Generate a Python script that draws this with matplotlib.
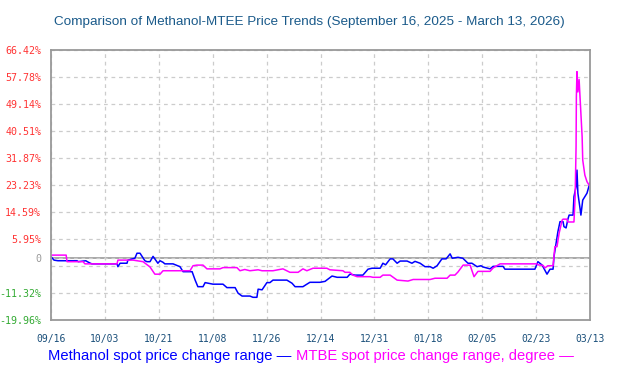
import matplotlib
matplotlib.use("Agg")
import matplotlib.pyplot as plt

# days since 2025-09-16 and change (%)
methanol_days = [0, 1, 2.3, 8.6, 9, 11.5, 12, 13, 13.5, 21.8, 22.1, 22.8, 25.1, 25.4, 27.7, 28.4,
                 29.4, 31.0, 31.7, 32.7, 33.7, 35.3, 36, 37.0, 37.6, 40.3, 42.6, 43.6, 46.6, 47.6,
                 48.5, 50.2, 50.9, 53.5, 56.8, 58.1, 60.8, 61.8, 63.1, 65.7, 66.7, 68.0, 68.4, 69.7,
                 71.3, 72.3, 73.3, 77.9, 79.6, 80.6, 83.2, 84.5, 85.5, 88.8, 90.5, 92.8, 94.5, 97.8,
                 98.7, 100.4, 103.0, 104.7, 106.0, 108.7, 109.6, 110.5, 112.0, 112.9, 114.3, 115.3,
                 117.6, 119.2, 120.2, 121.9, 123.5, 125.2, 126.2, 127.5, 129.1, 130.5, 131.8, 132.5,
                 134.4, 136, 137.7, 139.0, 140.7, 142, 142.7, 145.0, 146.0, 149.3, 149.9, 159.8,
                 160.8, 162.2, 163.8, 164.8, 165.8, 166.1, 166.8, 167.4, 168.1, 169.1, 169.4, 170.1,
                 170.7, 171.1, 172.4, 172.7, 173.4, 173.7, 174.0, 174.7, 175.0, 175.6, 177.0, 178.0]
methanol_vals = [0.3, -0.8, -1.0, -1.0, -1.3, -1.0, -1.3, -1.8, -2.0, -2.0, -2.9, -1.8, -1.8, -0.8,
                 -0.2, 1.4, 1.4, -1.0, -1.3, -1.3, 0.4, -1.8, -1.0, -1.5, -2.0, -2.0, -2.9, -4.5,
                 -4.5, -7.2, -9.3, -9.3, -8.0, -8.5, -8.5, -9.6, -9.6, -11.4, -12.3, -12.3, -12.7,
                 -12.7, -10.1, -10.3, -8.0, -8.0, -7.2, -7.2, -8.2, -9.3, -9.3, -8.5, -7.9, -7.9,
                 -7.6, -5.9, -6.3, -6.3, -5.3, -5.6, -5.6, -3.7, -3.4, -3.4, -1.8, -2.3, -0.4, -0.4,
                 -1.8, -1.1, -1.1, -1.8, -1.2, -1.8, -2.9, -2.9, -3.4, -2.6, -0.4, -0.4, 1.2, -0.2,
                 0.1, -0.2, -1.8, -1.8, -2.9, -2.6, -3.0, -3.6, -2.8, -2.8, -3.7, -3.7, -1.3, -2.4,
                 -5.3, -3.7, -3.7, 0.3, 4.6, 8.3, 11.5, 11.5, 9.9, 9.5, 12.3, 13.6, 13.6, 19.5, 22.7,
                 28.0, 20.6, 15.8, 13.6, 18.4, 20.6, 24.0]

mtbe_days = [0, 5, 5.3, 10.6, 11.2, 21.8, 22.1, 27.1, 28.4, 30.4, 32.7, 34.3, 36.0, 37.0, 43.6,
             45.9, 46.9, 48.2, 50.2, 51.5, 55.8, 56.8, 61.4, 62.4, 64, 65.7, 68.4, 69.7, 73.3,
             76.6, 78.9, 81.6, 83.2, 84.5, 86.5, 91.1, 92.1, 96.4, 97.1, 98.7, 99.7, 101.1, 105.4,
             106.3, 108.7, 109.6, 112.0, 114.3, 117.9, 119.6, 125.2, 126.8, 130.8, 131.8, 133.4,
             134.4, 136.1, 138.4, 139.7, 141.0, 145.0, 146.0, 148.3, 160.5, 160.8, 162.5, 163.1,
             164.1, 165.8, 166.4, 167.1, 167.8, 168.8, 169.1, 170.4, 170.7, 172.7, 173.1, 173.4,
             173.5, 173.7, 174.0, 174.4, 174.7, 175.4, 175.6, 176.3, 177.0, 178.0]
mtbe_vals = [0.8, 0.8, -1.3, -1.3, -2.0, -2.0, -0.8, -0.8, -1.0, -1.3, -3.0, -5.3, -5.3, -4.2,
             -4.2, -4.2, -2.6, -2.4, -2.4, -3.6, -3.6, -3.2, -3.2, -4.2, -3.8, -4.2, -3.9, -4.2,
             -4.2, -3.6, -4.7, -4.7, -3.6, -4.2, -3.4, -3.4, -3.9, -4.2, -4.7, -4.7, -5.6, -6.1,
             -6.1, -6.3, -6.3, -5.6, -5.6, -7.2, -7.5, -7.0, -7.0, -6.6, -6.6, -5.6, -5.6, -4.6,
             -2.4, -2.4, -6.1, -4.4, -4.4, -3.3, -2.0, -2.0, -2.3, -2.5, -3.3, -2.6, -2.6, 3.5,
             3.5, 7.8, 12.0, 12.3, 12.3, 11.4, 11.4, 19.5, 35.5, 51.5, 59.5, 53.0, 57.0, 51.5,
             38.7, 31.2, 26.4, 24.3, 22.7]

x_labels = ["09/16", "10/03", "10/21", "11/08", "11/26", "12/14", "12/31",
            "01/18", "02/05", "02/23", "03/13"]
y_ticks = [66.42, 57.78, 49.14, 40.51, 31.87, 23.23, 14.59, 5.95, 0, -2.69, -11.32, -19.96]

fig = plt.figure(figsize=(6.19, 3.84), dpi=100)
ax = fig.add_axes([51/619, 64/384, 539/619, 270/384])

ax.plot(methanol_days, methanol_vals, color="#0000ff", lw=1.1)
ax.plot(mtbe_days, mtbe_vals, color="#ff00ff", lw=1.1)

ax.set_xlim(0, 178)
ax.set_ylim(-19.96, 66.42)

xt = [178 * i / 10 for i in range(11)]
ax.set_xticks(xt)
ax.set_xticklabels(x_labels, family="DejaVu Sans Mono", fontsize=7, color="#1a4f7a")
ax.set_yticks(y_ticks)
ylab = []
for v in y_ticks:
    if v == 0:
        ylab.append("0")
    elif v == -2.69:
        ylab.append("")
    else:
        ylab.append("%.2f%%" % v)
ax.set_yticklabels(ylab, family="DejaVu Sans Mono", fontsize=7.2)
for lab, v in zip(ax.get_yticklabels(), y_ticks):
    if v > 0:
        lab.set_color("#ff3333")
    elif v < 0:
        lab.set_color("#33aa33")
    else:
        lab.set_color("#999999")
ax.tick_params(length=0)
ax.tick_params(axis="y", pad=7)
ax.tick_params(axis="x", pad=10)

ax.grid(True, color="#cccccc", linestyle=(0, (3, 3)), lw=0.9)
ax.axhline(0, color="#999999", lw=1.2, zorder=1.5)
for s in ax.spines.values():
    s.set_color("#999999")
    s.set_linewidth(1.3)

fig.text(0.5, 1 - 22/384, "Comparison of Methanol-MTEE Price Trends (September 16, 2025 - March 13, 2026)",
         ha="center", va="center", family="Liberation Sans", fontsize=9.7, color="#1a5a8a")

t1 = fig.text(48/619, 1 - 356/384, "Methanol spot price change range \u2014 ",
              ha="left", va="center", family="Liberation Sans", fontsize=10.6, color="#0000ff")
fig.canvas.draw()
bb = t1.get_window_extent()
fig.text(bb.x1 / 619, 1 - 356/384, "MTBE spot price change range, degree \u2014",
         ha="left", va="center", family="Liberation Sans", fontsize=10.6, color="#ff00ff")

fig.savefig("out.png", dpi=100)
